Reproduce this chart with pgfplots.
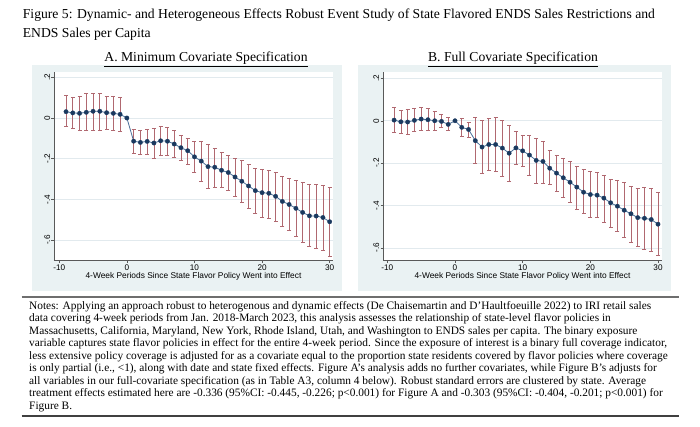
\documentclass[border=0pt]{standalone}
\usepackage{fontspec}
\setmainfont{Liberation Serif}
\newfontfamily\arialf{Liberation Sans}
\usepackage{pgfplots}
\usepackage{pgfplotstable}
\pgfplotsset{compat=1.18}
\definecolor{panelbg}{RGB}{234,242,243}
\definecolor{gridc}{RGB}{226,234,238}
\definecolor{navym}{RGB}{26,57,95}
\definecolor{lineb}{RGB}{74,111,153}
\definecolor{cired}{RGB}{176,104,112}
\definecolor{rulec}{RGB}{110,110,110}
\newcommand{\tickfont}{\arialf\fontsize{8.2}{9}\selectfont}
\newcommand{\labfont}{\arialf\fontsize{8.4}{9}\selectfont}
\newcommand{\titfont}{\fontsize{13.7}{15}\selectfont}
\newcommand{\notefont}{\fontsize{11.4}{12.5}\selectfont}

\pgfplotstableread{
x y lo hi
-9 0.031 -0.043 0.109
-8 0.025 -0.049 0.099
-7 0.023 -0.061 0.105
-6 0.028 -0.063 0.119
-5 0.033 -0.061 0.123
-4 0.033 -0.061 0.123
-3 0.026 -0.058 0.104
-2 0.023 -0.061 0.104
-1 0.018 -0.067 0.102
0 0 0 0
1 -0.114 -0.173 -0.054
2 -0.120 -0.179 -0.059
3 -0.115 -0.178 -0.054
4 -0.123 -0.199 -0.051
5 -0.112 -0.186 -0.040
6 -0.114 -0.186 -0.046
7 -0.128 -0.194 -0.063
8 -0.146 -0.207 -0.087
9 -0.161 -0.226 -0.100
10 -0.191 -0.268 -0.115
11 -0.212 -0.309 -0.115
12 -0.239 -0.346 -0.132
13 -0.242 -0.339 -0.148
14 -0.257 -0.342 -0.170
15 -0.268 -0.354 -0.184
16 -0.290 -0.385 -0.199
17 -0.311 -0.416 -0.207
18 -0.334 -0.446 -0.226
19 -0.357 -0.471 -0.247
20 -0.367 -0.487 -0.252
21 -0.370 -0.492 -0.258
22 -0.385 -0.509 -0.267
23 -0.410 -0.535 -0.288
24 -0.425 -0.553 -0.295
25 -0.444 -0.581 -0.308
26 -0.464 -0.609 -0.318
27 -0.481 -0.632 -0.328
28 -0.482 -0.639 -0.326
29 -0.489 -0.651 -0.331
30 -0.510 -0.678 -0.341
}\dataA

\pgfplotstableread{
x y lo hi
-9 0.003 -0.055 0.061
-8 -0.005 -0.061 0.049
-7 -0.006 -0.066 0.054
-6 0.002 -0.052 0.057
-5 0.008 -0.046 0.061
-4 0.005 -0.047 0.057
-3 0.000 -0.047 0.046
-2 -0.003 -0.033 0.028
-1 -0.017 -0.047 0.014
0 0 0 0
1 -0.031 -0.074 0.011
2 -0.041 -0.079 -0.006
3 -0.094 -0.203 0.016
4 -0.124 -0.250 0.003
5 -0.112 -0.236 0.011
6 -0.112 -0.238 0.016
7 -0.129 -0.261 0.002
8 -0.153 -0.285 -0.022
9 -0.128 -0.206 -0.052
10 -0.142 -0.216 -0.068
11 -0.162 -0.258 -0.068
12 -0.187 -0.296 -0.082
13 -0.192 -0.293 -0.096
14 -0.224 -0.302 -0.140
15 -0.247 -0.331 -0.164
16 -0.269 -0.361 -0.176
17 -0.290 -0.387 -0.191
18 -0.313 -0.416 -0.214
19 -0.337 -0.439 -0.230
20 -0.348 -0.454 -0.239
21 -0.351 -0.457 -0.243
22 -0.365 -0.477 -0.257
23 -0.387 -0.502 -0.276
24 -0.403 -0.523 -0.283
25 -0.422 -0.551 -0.291
26 -0.439 -0.572 -0.310
27 -0.457 -0.594 -0.317
28 -0.460 -0.605 -0.315
29 -0.466 -0.614 -0.318
30 -0.488 -0.636 -0.339
}\dataB

\pgfplotsset{
  evstyle/.style={
    scale only axis, width=279bp, height=188bp, anchor=south west,
    axis x line*=bottom, axis y line*=left,
    axis line style={draw=black!65, line width=0.5bp},
    tick align=outside, major tick length=2.5bp,
    tick style={draw=black!65, line width=0.5bp},
    xtick={-10,0,10,20,30}, xticklabels={-10,0,10,20,30},
    ytick={-0.6,-0.4,-0.2,0,0.2}, yticklabels={-.6,-.4,-.2,0,.2},
    yticklabel style={rotate=90, anchor=south, font=\tickfont, inner sep=1.2bp},
    xticklabel style={font=\tickfont, inner sep=1bp, yshift=-0.8bp},
    ymajorgrids, grid style={draw=gridc, line width=0.6bp},
    xlabel={4-Week Periods Since State Flavor Policy Went into Effect},
    xlabel style={font=\labfont, inner sep=0pt, anchor=north, yshift=-0.8bp},
    axis background/.style={fill=white},
  },
  ciplot/.style={forget plot, draw=none, mark=none,
    error bars/.cd, y dir=both, y explicit,
    error bar style={draw=cired, line width=0.7bp},
    error mark options={rotate=90, draw=cired, mark size=2bp, line width=0.7bp}},
  ptplot/.style={color=lineb, line width=0.8bp, mark=*, mark size=2.2bp,
    mark options={fill=navym, draw=navym, line width=0.3bp}},
}

\begin{document}
\begin{tikzpicture}
\path[use as bounding box] (0,0) rectangle (700bp,-427bp);
% panel backgrounds
\fill[panelbg] (32bp,-65bp) rectangle (342bp,-291bp);
\fill[panelbg] (358bp,-65bp) rectangle (671bp,-291bp);

% titles
\node[anchor=base west, inner sep=0pt, font=\titfont] at (22.7bp,-18.3bp) {Figure 5: Dynamic- and Heterogeneous Effects Robust Event Study of State Flavored ENDS Sales Restrictions and};
\node[anchor=base west, inner sep=0pt, font=\titfont] at (22.7bp,-37.3bp) {ENDS Sales per Capita};
\node[anchor=base, inner sep=0pt, font=\titfont] at (206bp,-61.7bp) {\underline{A. Minimum Covariate Specification}};
\node[anchor=base, inner sep=0pt, font=\titfont] at (513bp,-61.7bp) {\underline{B. Full Covariate Specification}};

\begin{axis}[evstyle, at={(54bp,-260bp)}, xmin=-10.78, xmax=30.49, ymin=-0.698, ymax=0.226]
\addplot[ciplot] table[x=x, y=y, y error plus expr=\thisrow{hi}-\thisrow{y}, y error minus expr=\thisrow{y}-\thisrow{lo}] {\dataA};
\addplot[ptplot] table[x=x, y=y] {\dataA};
\end{axis}

\begin{axis}[evstyle, at={(383bp,-260bp)}, xmin=-10.64, xmax=30.59, ymin=-0.657, ymax=0.23]
\addplot[ciplot] table[x=x, y=y, y error plus expr=\thisrow{hi}-\thisrow{y}, y error minus expr=\thisrow{y}-\thisrow{lo}] {\dataB};
\addplot[ptplot] table[x=x, y=y] {\dataB};
\end{axis}

% notes
\draw[rulec, line width=2bp] (21.7bp,-297bp) -- (679bp,-297bp);
\draw[black!75, line width=1.6bp] (21.7bp,-416bp) -- (679bp,-416bp);
\begin{scope}[every node/.style={anchor=base west, inner sep=0pt, font=\notefont}]
\node at (29bp,-309bp) {Notes: Applying an approach robust to heterogenous and dynamic effects (De Chaisemartin and D’Haultfoeuille 2022) to IRI retail sales};
\node at (29bp,-321.5bp) {data covering 4-week periods from Jan. 2018-March 2023, this analysis assesses the relationship of state-level flavor policies in};
\node at (29bp,-334bp) {Massachusetts, California, Maryland, New York, Rhode Island, Utah, and Washington to ENDS sales per capita. The binary exposure};
\node at (29bp,-346.6bp) {variable captures state flavor policies in effect for the entire 4-week period. Since the exposure of interest is a binary full coverage indicator,};
\node at (29bp,-359.1bp) {less extensive policy coverage is adjusted for as a covariate equal to the proportion state residents covered by flavor policies where coverage};
\node at (29bp,-371.7bp) {is only partial (i.e., <1), along with date and state fixed effects. Figure A’s analysis adds no further covariates, while Figure B’s adjusts for};
\node at (29bp,-384.2bp) {all variables in our full-covariate specification (as in Table A3, column 4 below). Robust standard errors are clustered by state. Average};
\node at (29bp,-396.7bp) {treatment effects estimated here are -0.336 (95\%CI: -0.445, -0.226; p<0.001) for Figure A and -0.303 (95\%CI: -0.404, -0.201; p<0.001) for};
\node at (29bp,-409.3bp) {Figure B.};
\end{scope}
\end{tikzpicture}
\end{document}
